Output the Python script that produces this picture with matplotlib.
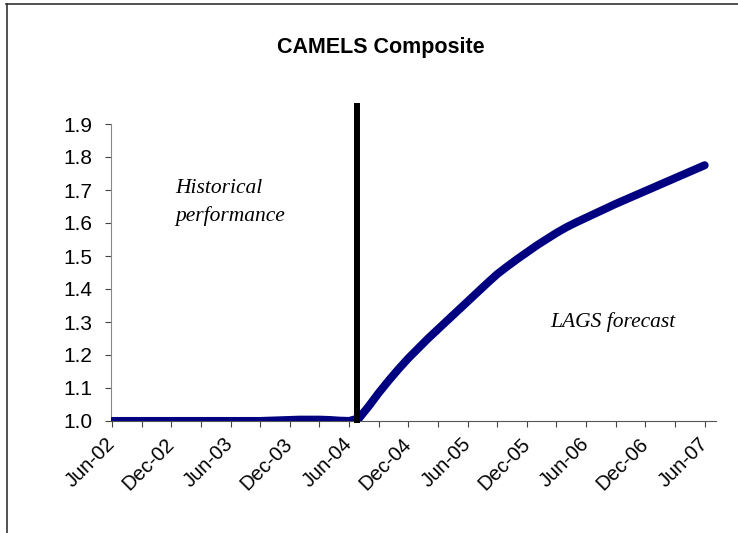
import matplotlib
matplotlib.use("Agg")
import matplotlib.pyplot as plt
from matplotlib.lines import Line2D

# month index: 0 = Jun-02
months = list(range(0, 61))
values = [1.0, 1.0, 1.0, 1.0, 1.0, 1.0, 1.0, 1.0, 1.0, 1.0,
          1.0, 1.0, 1.0, 1.0, 1.0, 1.0, 1.001, 1.002, 1.003, 1.004,
          1.004, 1.004, 1.003, 1.001, 1.0, 1.008, 1.045, 1.085, 1.122, 1.157,
          1.19, 1.22, 1.25, 1.278, 1.306, 1.334, 1.362, 1.39, 1.418, 1.445,
          1.468, 1.49, 1.511, 1.532, 1.551, 1.57, 1.587, 1.602, 1.616, 1.63,
          1.644, 1.658, 1.671, 1.684, 1.697, 1.71, 1.723, 1.736, 1.749, 1.762, 1.775]
split_month = 24.8
tick_labels = ["Jun-02", "Dec-02", "Jun-03", "Dec-03", "Jun-04", "Dec-04",
               "Jun-05", "Dec-05", "Jun-06", "Dec-06", "Jun-07"]
yticks = [1.0, 1.1, 1.2, 1.3, 1.4, 1.5, 1.6, 1.7, 1.8, 1.9]

W, H = 738, 533
fig = plt.figure(figsize=(W/100, H/100), dpi=100)
ax = fig.add_axes([111/W, 1-421/H, (716-111)/W, (421-124)/H])

ax.plot(months, values, color="#000080", lw=5.8, solid_capstyle="round", zorder=3)
ax.plot([split_month, split_month], [0.994, 1.964], color="black", lw=4.3,
        solid_capstyle="butt", clip_on=False, zorder=4)

ax.set_xlim(-0.1, 61.15)
ax.set_ylim(1.0, 1.9)
ax.set_yticks(yticks)
ax.set_yticklabels([f"{v:.1f}" for v in yticks], fontsize=15, family="Liberation Sans")
ax.set_xticks(range(0, 61, 3), minor=True)
ax.set_xticks(range(0, 61, 6))
ax.set_xticklabels(tick_labels, rotation=45, ha="right", va="center", rotation_mode="anchor",
                   fontsize=14.5, family="Liberation Sans")
ax.tick_params(axis="x", which="both", direction="out", length=4.3, width=0.8, color="#444444", pad=10)
ax.tick_params(axis="y", direction="out", length=4.3, width=0.8, color="#444444", pad=9)
for s in ["top", "right"]:
    ax.spines[s].set_visible(False)
ax.spines["left"].set_color("#888888")
ax.spines["bottom"].set_color("#555555")

fig.text(381/W, 1-47/H, "CAMELS Composite", ha="center", va="center",
         fontsize=15.5, fontweight="bold", family="Liberation Sans")
fig.text(175/W, 1-193/H, "Historical", ha="left", va="baseline",
         fontsize=15.5, style="italic", family="Liberation Serif")
fig.text(175/W, 1-221/H, "performance", ha="left", va="baseline",
         fontsize=15.5, style="italic", family="Liberation Serif")
fig.text(550/W, 1-327/H, "LAGS forecast", ha="left", va="baseline",
         fontsize=15.5, style="italic", family="Liberation Serif")

fig.add_artist(Line2D([6/W, 1], [1-4/H, 1-4/H], color="#333333", lw=1.2))
fig.add_artist(Line2D([7/W, 7/W], [1-4/H, 0], color="#333333", lw=1.2))

fig.savefig("out.png", dpi=100)
